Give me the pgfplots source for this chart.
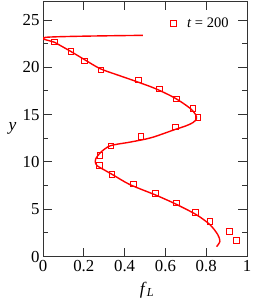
\documentclass[border=0pt]{standalone}
\usepackage{pgfplots}
\pgfplotsset{compat=1.18}
\usepackage{fontspec}
\setmainfont{Liberation Serif}
\begin{document}
\begin{tikzpicture}[font=\fontsize{16.5}{18}\selectfont]
\begin{axis}[
  scale only axis, width=204pt, height=255.5pt,
  xmin=0, xmax=1, ymin=0, ymax=27,
  xtick={0,0.2,0.4,0.6,0.8,1},
  ytick={0,5,10,15,20,25},
  minor y tick num=1,
  tick align=inside,
  major tick length=9pt, minor tick length=5pt,
  tick style={black!80, line width=0.8pt},
  axis line style={black!80, line width=0.8pt},
  /pgf/number format/assume math mode=true,
  tick label style={font=\fontsize{16.8}{18}\selectfont},
  xlabel={\textit{f}\textsubscript{\textit{L}}},
  ylabel={\textit{y}},
  label style={font=\fontsize{17.5}{19}\selectfont},
  xlabel style={at={(axis description cs:0.51,-0.13)}, anchor=center},
  ylabel style={rotate=-90, at={(axis description cs:-0.15,0.5)}, anchor=center},
  legend style={at={(axis description cs:0.925,0.913)}, anchor=east, draw=none, fill=none,
    font=\fontsize{14.5}{16}\selectfont, inner sep=1pt,
    /tikz/every odd column/.append style={column sep=9pt}},
  legend cell align=left,
]
\addplot[red, line width=1.4pt, smooth, tension=0.5, forget plot] coordinates {
 (0.49,23.37) (0.018,23.17) (0.06,22.6) (0.13,21.75) (0.20,20.85) (0.28,19.85)
 (0.37,19.15) (0.45,18.55) (0.55,17.75) (0.647,16.74) (0.72,15.68) (0.748,15.0)
 (0.752,14.55) (0.735,14.15) (0.70,13.8) (0.647,13.42) (0.53,12.55) (0.43,12.1)
 (0.33,11.7) (0.28,10.95) (0.258,10.3) (0.256,10.0) (0.265,9.6) (0.30,9.15)
 (0.345,8.6) (0.426,7.6) (0.557,6.45) (0.655,5.5) (0.753,4.4) (0.819,3.35)
 (0.857,2.3) (0.867,1.6) (0.851,1.04)
};
\addplot[only marks, mark=square, mark size=2.8pt, red, line width=0.8pt] coordinates {
 (0.055,22.67) (0.136,21.67) (0.204,20.69) (0.283,19.70) (0.467,18.68) (0.570,17.69)
 (0.654,16.67) (0.734,15.68) (0.760,14.73) (0.650,13.70) (0.480,12.68) (0.333,11.69)
 (0.279,10.71) (0.275,9.65) (0.337,8.66) (0.443,7.67) (0.552,6.65) (0.654,5.66)
 (0.748,4.68) (0.819,3.68) (0.913,2.67) (0.949,1.67)
};
\addlegendentry{\textit{t} = 200}
\end{axis}
\pgfresetboundingbox
\path ([shift={(-43pt,-47.5pt)}]current axis.south west) rectangle ([shift={(5pt,1pt)}]current axis.north east);
\end{tikzpicture}
\end{document}
